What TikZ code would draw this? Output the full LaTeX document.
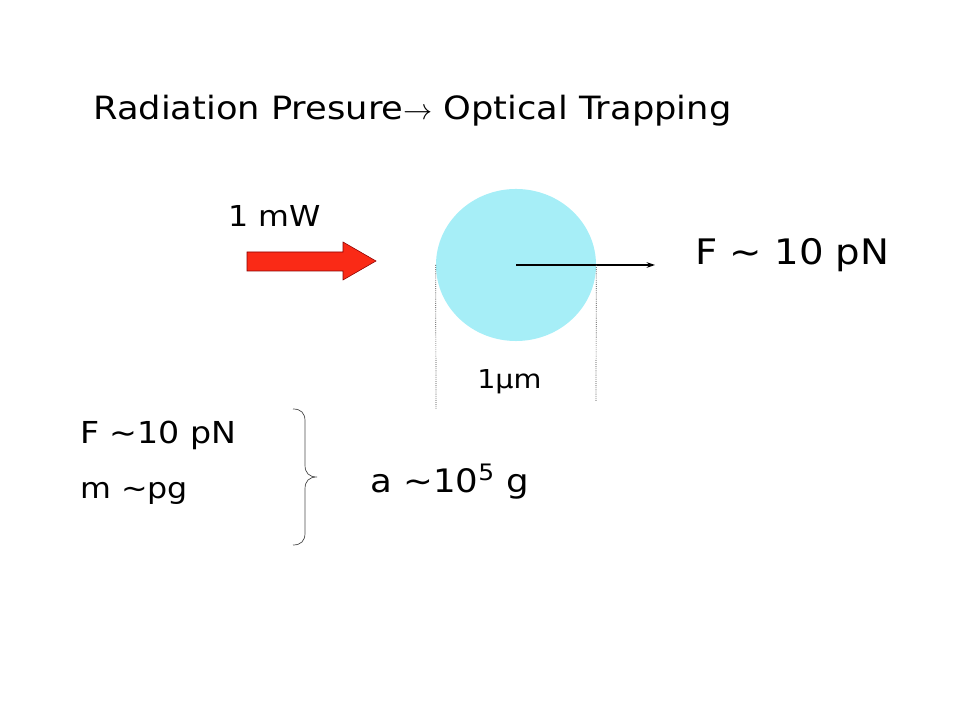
\documentclass[tikz,border=0pt]{standalone}
\usepackage{fontspec}
\setmainfont{DejaVu Sans}[FakeStretch=1.1]
\usetikzlibrary{arrows.meta, positioning, shapes.geometric}
\definecolor{beadblue}{RGB}{166,238,247}
\definecolor{beamred}{RGB}{250,42,22}

\begin{document}
\begin{tikzpicture}[x=0.025cm, y=-0.025cm,
  txt/.style={inner sep=0pt, anchor=base west, font=\fontsize{20.5}{24}\selectfont},
  bigtxt/.style={txt, font=\fontsize{25}{29}\selectfont},
  guide/.style={dash pattern=on 0.6pt off 0.9pt, gray!50!black, line width=0.5pt},
  beam/.style={draw=red!55!black, fill=beamred, line width=0.4pt}]
  \useasboundingbox (0,0) rectangle (960,720);

  \node (title) [txt, font=\fontsize{22.8}{27}\selectfont] at (93,120) {Radiation Presure$\rightarrow$ Optical Trapping};

  % laser beam and bead
  \node (power) [txt] at (228,227) {1 mW};
  \draw [beam] (247,252) -- (343,252) -- (343,242) -- (376,261) -- (343,280) -- (343,271) -- (247,271) -- cycle;
  \node (bead) [ellipse, fill=beadblue, minimum width=4cm, minimum height=3.8cm, inner sep=0pt] at (516,265) {};
  \coordinate (push) at (655,265);
  \draw [-{Stealth[length=6pt, width=4pt]}, line width=0.9pt] (bead.center) -- (push);
  \node (force) [bigtxt] at (695,265) {F \textasciitilde{} 10 pN};

  % size of the bead
  \coordinate (dleft) at (436,409);
  \coordinate (dright) at (596,401);
  \draw [guide] (bead.west) -- (dleft);
  \draw [guide] (bead.east) -- (dright);
  \node (size) [txt, font=\fontsize{18.5}{22}\selectfont] at (477,389) {1µm};

  % estimate
  \node (f) [txt, font=\fontsize{21.5}{25}\selectfont] at (80,444) {F \textasciitilde10 pN};
  \node (m) [txt] at (80,499) {m \textasciitilde pg};
  \draw [gray!60!black, line width=0.5pt] (293,409) .. controls (301,409) and (305,413) .. (305,421) -- (305,465)
    .. controls (305,473) and (309,477) .. (317,477) .. controls (309,477) and (305,481) .. (305,489) -- (305,533)
    .. controls (305,541) and (301,545) .. (293,545);
  \node (acc) [bigtxt, font=\fontsize{23}{27}\selectfont] at (370,493) {a \textasciitilde10\textsuperscript{5} g};
\end{tikzpicture}
\end{document}
